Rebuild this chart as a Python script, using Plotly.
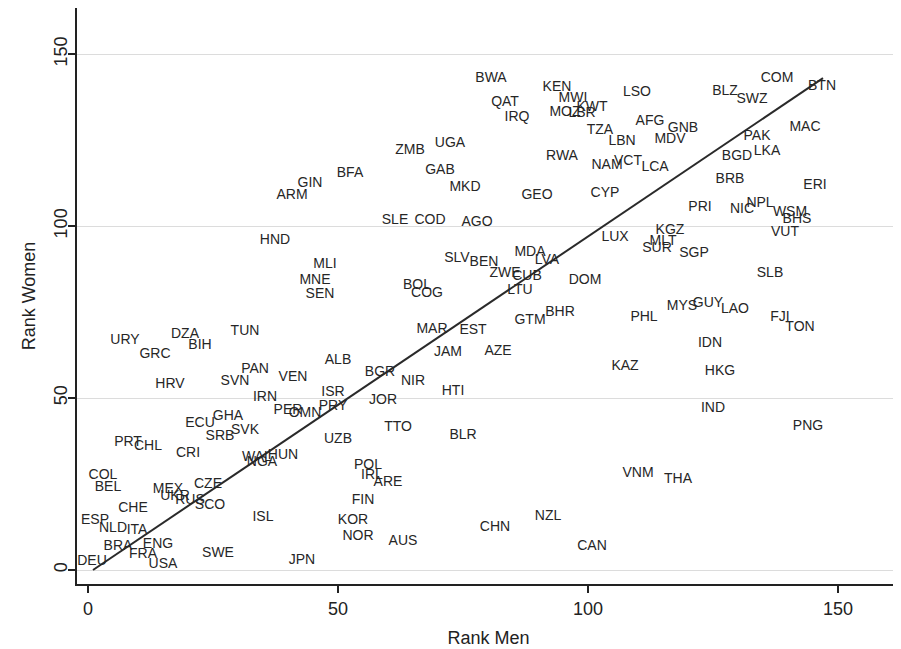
import plotly.graph_objects as go

countries = ["BWA","KEN","COM","BTN","QAT","IRQ","MWI","KWT","MOZ","LBR","LSO","BLZ","SWZ","AFG","GNB","MAC",
 "TZA","LBN","MDV","PAK","UGA","ZMB","RWA","NAM","VCT","LCA","BGD","LKA","GAB","BFA","MKD","GIN","ARM","GEO",
 "CYP","BRB","ERI","PRI","NIC","NPL","WSM","BHS","SLE","COD","AGO","HND","LUX","KGZ","MLT","SUR","SGP","VUT",
 "MLI","SLV","BEN","MDA","LVA","ZWE","CUB","MNE","SEN","BOL","COG","LTU","DOM","SLB","MYS","GUY","LAO","FJI",
 "TON","BHR","GTM","PHL","MAR","EST","URY","DZA","BIH","TUN","GRC","JAM","AZE","ALB","IDN","KAZ","HKG","PAN",
 "VEN","SVN","BGR","NIR","HRV","ISR","IRN","HTI","JOR","PER","OMN","PRY","IND","ECU","GHA","SVK","SRB","PNG",
 "TTO","BLR","UZB","PRT","CHL","CRI","WAL","HUN","NGA","COL","POL","BEL","IRL","ARE","VNM","THA","MEX","UKR",
 "CZE","RUS","SCO","CHE","FIN","ISL","ESP","NLD","ITA","KOR","NZL","NOR","CHN","ENG","BRA","AUS","FRA","SWE",
 "CAN","DEU","USA","JPN"]

rank_men = [80.6,93.8,137.8,146.8,83.4,85.8,97.0,100.8,95.4,98.8,109.8,127.4,132.8,112.4,119.0,143.4,
 102.4,106.8,116.4,133.8,72.4,64.4,94.8,103.8,108.0,113.4,129.8,135.8,70.4,52.4,75.4,44.4,40.8,89.8,
 103.4,128.4,145.4,122.4,130.8,134.4,140.4,141.8,61.4,68.4,77.8,37.4,105.4,116.4,115.0,113.8,121.2,139.4,
 47.4,73.8,79.2,88.4,91.8,83.4,87.8,45.4,46.4,65.8,67.8,86.4,99.4,136.4,118.8,124.0,129.4,138.4,
 142.4,94.4,88.4,111.2,68.8,77.0,7.4,19.4,22.4,31.4,13.4,72.0,82.0,50.0,124.4,107.4,126.4,33.4,
 41.0,29.4,58.4,65.0,16.4,49.0,35.4,73.0,59.0,40.0,43.4,49.0,125.0,22.4,28.0,31.4,26.4,144.0,
 62.0,75.0,50.0,8.0,12.0,20.0,33.8,39.0,34.8,3.0,56.0,4.0,56.8,60.0,110.0,118.0,16.0,17.4,
 24.0,20.4,24.4,9.0,55.0,35.0,1.4,5.0,9.8,53.0,92.0,54.0,81.4,14.0,6.0,63.0,11.0,26.0,
 100.8,0.8,15.0,42.8]

rank_women = [143.0,140.4,143.0,140.7,135.8,131.7,137.2,134.6,133.1,132.8,138.7,139.0,136.9,130.5,128.5,128.8,
 127.9,124.7,125.3,125.9,124.1,122.1,120.1,117.7,118.9,116.9,120.1,121.8,116.3,115.4,111.3,112.5,109.0,109.0,
 109.6,113.4,111.9,105.5,104.7,106.7,103.8,102.0,101.5,101.5,100.9,95.9,96.8,98.8,95.6,93.6,91.9,98.0,
 88.7,90.7,89.5,92.4,90.1,86.3,85.2,84.3,80.2,82.8,80.5,81.4,84.3,86.3,76.7,77.6,75.6,73.5,
 70.6,75.0,72.4,73.3,69.8,69.5,66.6,68.6,65.4,69.2,62.8,63.1,63.4,61.0,66.0,59.3,57.6,58.4,
 56.1,54.7,57.3,54.9,53.8,51.7,50.3,52.0,49.4,46.5,45.6,47.4,47.1,42.7,44.5,40.7,38.7,41.6,
 41.3,39.0,37.8,37.2,35.8,34.0,32.8,33.4,31.4,27.6,30.5,24.1,27.6,25.3,28.2,26.2,23.3,21.5,
 25.0,20.3,18.9,18.0,20.3,15.4,14.5,12.2,11.6,14.5,15.7,9.6,12.5,7.3,6.7,8.4,4.4,4.9,
 6.7,2.6,1.5,2.9]

line_x = [1, 147]
line_y = [0, 143]

x_ticks = [0, 50, 100, 150]
y_ticks = [0, 50, 100, 150]

FONT = "Arial, Liberation Sans, sans-serif"

fig = go.Figure()
fig.add_trace(go.Scatter(x=line_x, y=line_y, mode="lines",
                         line=dict(color="#2a2a2a", width=2), hoverinfo="skip", showlegend=False))
fig.add_trace(go.Scatter(x=rank_men, y=rank_women, mode="text", text=countries,
                         textposition="middle center", cliponaxis=False,
                         textfont=dict(family=FONT, size=14, color="#262626"),
                         showlegend=False))

fig.update_layout(
    width=901, height=649,
    margin=dict(l=69, r=9, t=0, b=73),
    paper_bgcolor="white", plot_bgcolor="white",
    font=dict(family=FONT, color="#222222"),
    xaxis=dict(range=[-2.2, 162.4], tickvals=x_ticks, ticks="outside", ticklen=7,
               tickwidth=1.5, tickcolor="#222", showline=True, linecolor="#222", linewidth=2,
               showgrid=False, zeroline=False, tickfont=dict(size=18, family=FONT),
               automargin=False,
               title=dict(text="Rank Men", font=dict(size=18, family=FONT), standoff=14)),
    yaxis=dict(range=[-4.07, 163.4], tickvals=y_ticks, ticks="outside", ticklen=7,
               tickwidth=1.5, tickcolor="#222", showline=True, linecolor="#222", linewidth=2,
               showgrid=True, gridcolor="#dcdcdc", gridwidth=1, zeroline=False,
               tickangle=-90, tickfont=dict(size=18, family=FONT), automargin=False,
               ticklabelstandoff=-6,
               title=dict(text="Rank Women", font=dict(size=18, family=FONT), standoff=10)),
)

fig.write_html("out.html")
